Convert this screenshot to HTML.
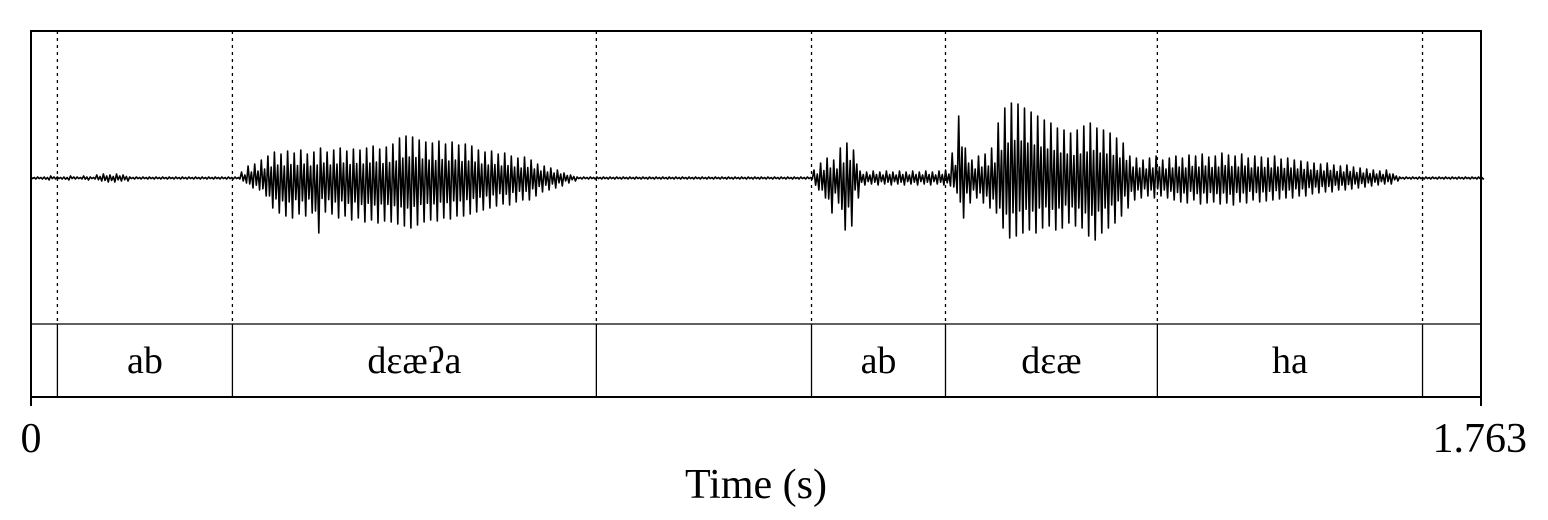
<!DOCTYPE html>
<html><head><meta charset="utf-8"><style>
html,body{margin:0;padding:0;background:#fff;}
svg{display:block;}
text{font-family:"Liberation Serif","DejaVu Serif",serif;fill:#000;}
</style></head><body>
<svg id="chart" width="1548" height="520" viewBox="0 0 1548 520" xmlns="http://www.w3.org/2000/svg">
<g id="wave"></g>
<g id="bounds"></g>
<g id="labels"></g>
<rect x="31" y="31" width="1450" height="366" fill="none" stroke="#000" stroke-width="2"/>
<line x1="31" y1="324" x2="1481" y2="324" stroke="#000" stroke-width="1.3"/>
<line x1="31" y1="397" x2="31" y2="406" stroke="#000" stroke-width="2"/>
<line x1="1481" y1="397" x2="1481" y2="406" stroke="#000" stroke-width="2"/>
<text x="31" y="452" font-size="42" text-anchor="middle">0</text>
<text x="1527" y="452" font-size="42" text-anchor="end">1.763</text>
<text x="756" y="498" font-size="42" text-anchor="middle">Time (s)</text>
</svg>
<script>
const duration = 1.763;
const step = 0.008;
const upAmp = [1,1,1,2,1,1,2,1,2,1, 3,4,3,4,3, 1,1,1,1,1,1,1,1,1,1,1,1,1,1,1,1,1,
6,12,14,18, 22,26,24,27,25,28,24,26,30, 26,28,30,27,29,28,30,32,29,31,34, 40,42,41,
38,36,35,37,34,36,33,34,32, 28,26,27,24,25,22,20,21,18, 14,12,10,8,5,3,
1,1,1,1,1,1,1,1,1,1,1,1,1,1,1,1,1,1,1,1,1,1,1,1,1,1,1,1,1,1,1,1,1,1,1,1,
8,15,20,18,30,35,28, 7,6,7,6,7,6,7,6,7,6,7,6,7,8, 25,62,30, 18,22,24,30, 55,70,75,74,70,
66,62,58,55,50,48,45, 48,52,55,50,48,45,40,35, 22,20,18,20,22,
18,20,22,20,23,22,24,21,22,25,23,22,24,20,22,21,20,22,19,20,18,
17,16,15,14,15,13,12,13,11,10,9,8,7,8,4, 1,1,1,1,1,1,1,1,1,1,1,1,1];
const dnAmp = [1,1,2,1,1,2,1,1,2,1, 3,4,4,3,3, 1,1,1,1,1,1,1,1,1,1,1,1,1,1,1,1,1,
5,10,12,18, 30,35,38,40,36,38,35,55,34, 36,40,38,42,40,44,42,45,43,44,46, 48,50,47,
44,42,43,40,41,38,38,36,34, 32,30,28,26,27,24,22,22,18, 14,12,10,8,5,3,
1,1,1,1,1,1,1,1,1,1,1,1,1,1,1,1,1,1,1,1,1,1,1,1,1,1,1,1,1,1,1,1,1,1,1,1,
12,20,35,25,52,48,20, 7,6,7,6,7,6,7,6,7,6,7,6,7,8, 15,40,25, 20,25,30,35, 50,60,58,55,52,
55,50,48,52,50,45,48, 50,58,62,55,50,45,38,30, 22,20,18,20,18,
20,22,24,25,22,26,25,24,26,25,27,24,25,22,24,23,22,21,20,20,18,
18,16,15,14,14,12,12,11,10,9,8,7,6,6,3, 1,1,1,1,1,1,1,1,1,1,1,1,1];
const boundaries = [0.0321, 0.2449, 0.6874, 0.9490, 1.1119, 1.3695, 1.6919];
const intervalLabels = ["", "ab", "dɛæʔa", "", "ab", "dɛæ", "ha", ""];

const NS = "http://www.w3.org/2000/svg";
const x = t => 31 + t / duration * 1450;
const y = v => 178 - v;
const wave = document.getElementById('wave');
let d = "M31 178";
for (let i = 0; i < upAmp.length; i++) {
  const xx = x(i * step);
  d += ` L${xx.toFixed(1)} ${y(upAmp[i]).toFixed(1)}`;
  d += ` L${(xx + 1.6).toFixed(1)} ${y(-dnAmp[i] * 0.6).toFixed(1)}`;
  d += ` L${(xx + 3.3).toFixed(1)} ${y(upAmp[i] * 0.5).toFixed(1)}`;
  d += ` L${(xx + 4.9).toFixed(1)} ${y(-dnAmp[i]).toFixed(1)}`;
}
d += " L1481 178";
const p = document.createElementNS(NS, 'path');


p.setAttribute('d', d);
p.setAttribute('fill', 'none');
p.setAttribute('stroke', '#000');
p.setAttribute('stroke-width', '1.6');
p.setAttribute('stroke-linejoin', 'round');
wave.appendChild(p);

const bg = document.getElementById('bounds');
boundaries.forEach(b => {
  const xx = x(b);
  const l1 = document.createElementNS(NS, 'line');
  
  
  l1.setAttribute('x1', xx); l1.setAttribute('x2', xx);
  l1.setAttribute('y1', 31); l1.setAttribute('y2', 324);
  l1.setAttribute('stroke', '#000'); l1.setAttribute('stroke-width', '1.3');
  l1.setAttribute('stroke-dasharray', '3 4');
  bg.appendChild(l1);
  const l2 = document.createElementNS(NS, 'line');
  
  
  l2.setAttribute('x1', xx); l2.setAttribute('x2', xx);
  l2.setAttribute('y1', 324); l2.setAttribute('y2', 397);
  l2.setAttribute('stroke', '#000'); l2.setAttribute('stroke-width', '1.3');
  bg.appendChild(l2);
});

const lg = document.getElementById('labels');
const edges = [0, ...boundaries, duration];
intervalLabels.forEach((lab, i) => {
  if (!lab) return;
  const cx = (x(edges[i]) + x(edges[i + 1])) / 2;
  const tx = document.createElementNS(NS, 'text');
  
  
  tx.setAttribute('x', cx);
  tx.setAttribute('y', 373);
  tx.setAttribute('font-size', '38');
  tx.setAttribute('text-anchor', 'middle');
  tx.textContent = lab;
  lg.appendChild(tx);
});
</script>
</body></html>
